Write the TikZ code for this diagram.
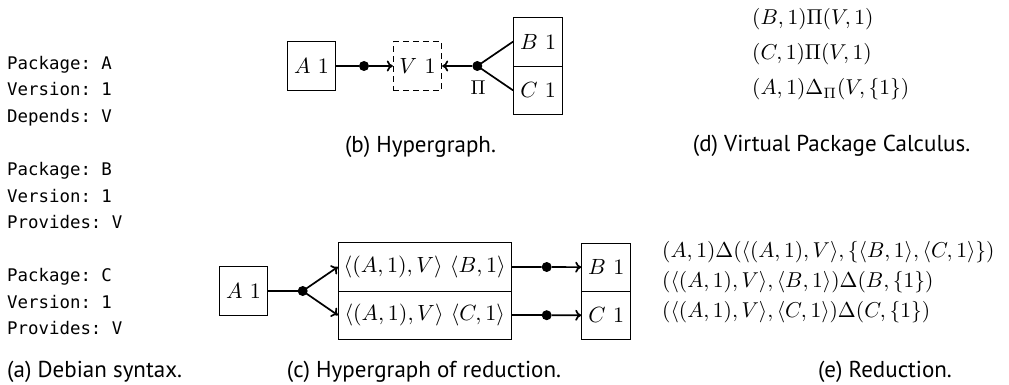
\documentclass[tikz,border=0pt]{standalone}
\usepackage{graphicx}
\usepackage{fontspec}
\newfontfamily\capfont{PT Sans}
\newfontfamily\monofnt{DejaVu Sans Mono}
\usetikzlibrary{arrows.meta}
\frenchspacing
\newcommand\dm[1]{\scalebox{2.2}{$#1$}}
\newcommand\pimath[1]{\scalebox{2.0}{$#1$}}
\newcommand\mm[1]{\scalebox{2.15}{$#1$}}
\newcommand\cfont{\capfont\fontsize{23}{27}\selectfont}
\newcommand\tfont{\monofnt\fontsize{17.4}{21}\selectfont}
\begin{document}
\begin{tikzpicture}[x=1pt,y=-1pt,
  box/.style={draw, line width=0.9pt, minimum width=48.5pt, minimum height=48.5pt, inner sep=0pt},
  wbox/.style={box, minimum width=172.7pt},
  vbox/.style={box, dashed, dash pattern=on 5.5pt off 4.5pt},
  dotn/.style={circle, fill, inner sep=0pt, minimum size=10pt},
  conn/.style={line width=1.7pt},
  arr/.style={-{To[length=6pt,width=11pt]}},
  txt/.style={inner sep=0pt, anchor=base west},
  mono/.style={txt, font=\tfont},
  mth/.style={txt},
  captxt/.style={inner sep=0pt, anchor=base, font=\cfont}]
\useasboundingbox (0,0) rectangle (1009,385);

% (a) Debian syntax
\node[mono] (a1) at (7,69.5) {Package: A};
\node[mono] (a2) at (7,96) {Version: 1};
\node[mono] (a3) at (7,122.5) {Depends: V};
\node[mono] (a4) at (7,175.5) {Package: B};
\node[mono] (a5) at (7,202) {Version: 1};
\node[mono] (a6) at (7,228.5) {Provides: V};
\node[mono] (a7) at (7,281.5) {Package: C};
\node[mono] (a8) at (7,308) {Version: 1};
\node[mono] (a9) at (7,334.5) {Provides: V};
\node[captxt, anchor=base west] (capa) at (7,377) {(a) Debian syntax.};

% (b) Hypergraph
\node[box] (bA) at (311.5,66) {\dm{A\ 1}};
\node[dotn] (bd1) at (364,66) {};
\node[vbox] (bV) at (417.5,66) {\dm{V\ 1}};
\node[dotn] (bd2) at (477.3,66) {};
\node[box, minimum width=49.2pt, minimum height=48.7pt] (bB) at (538.1,41.65) {\dm{B\ 1}};
\node[box, minimum width=49.2pt, minimum height=48.7pt] (bC) at (538.1,90.35) {\dm{C\ 1}};
\node[inner sep=0pt] (bpi) at (478,87.5) {\pimath{\Pi}};
\draw[conn] (bA) -- (bd1);
\draw[conn, arr] (bd1) -- (bV);
\draw[conn, arr] (bd2) -- (bV);
\draw[conn] (bd2.center) -- (bB.west);
\draw[conn] (bd2.center) -- (bC.west);
\node[captxt] (capb) at (420.5,153) {(b) Hypergraph.};

% (c) Hypergraph of reduction
\node[box] (cA) at (243.5,291) {\dm{A\ 1}};
\node[dotn] (cd) at (302.7,291) {};
\node[wbox] (r1) at (424.7,266.9) {\dm{\langle(A,1),V\rangle\ \langle B,1\rangle}};
\node[wbox] (r2) at (424.7,315.2) {\dm{\langle(A,1),V\rangle\ \langle C,1\rangle}};
\node[dotn] (e1) at (546.7,267) {};
\node[dotn] (e2) at (546.7,315.2) {};
\node[box, minimum width=49pt, minimum height=48pt] (cB) at (606.2,267.3) {\dm{B\ 1}};
\node[box, minimum width=49pt, minimum height=48pt] (cC) at (606.2,315.3) {\dm{C\ 1}};
\draw[conn] (cA) -- (cd);
\draw[conn, arr] (cd.center) -- (r1.west);
\draw[conn, arr] (cd.center) -- (r2.west);
\draw[conn] (r1) -- (e1);
\draw[conn, arr] (e1) -- (cB);
\draw[conn] (r2) -- (e2);
\draw[conn, arr] (e2) -- (cC);
\node[captxt] (capc) at (424,377) {(c) Hypergraph of reduction.};

% (d) Virtual Package Calculus
\node[mth] (d1) at (752,25) {\mm{(B,1)\Pi(V,1)}};
\node[mth] (d2) at (752,60) {\mm{(C,1)\Pi(V,1)}};
\node[mth] (d3) at (752,95) {\mm{(A,1)\Delta_\Pi(V,\{1\})}};
\node[captxt] (capd) at (831.5,152) {(d) Virtual Package Calculus.};

% (e) Reduction
\node[mth] (e1t) at (662,257.5) {\mm{(A,1)\Delta(\langle(A,1),V\rangle,\{\langle B,1\rangle,\langle C,1\rangle\})}};
\node[mth] (e2t) at (662,287.5) {\mm{(\langle(A,1),V\rangle,\langle B,1\rangle)\Delta(B,\{1\})}};
\node[mth] (e3t) at (662,317.5) {\mm{(\langle(A,1),V\rangle,\langle C,1\rangle)\Delta(C,\{1\})}};
\node[captxt] (cape) at (885,377) {(e) Reduction.};
\end{tikzpicture}
\end{document}
